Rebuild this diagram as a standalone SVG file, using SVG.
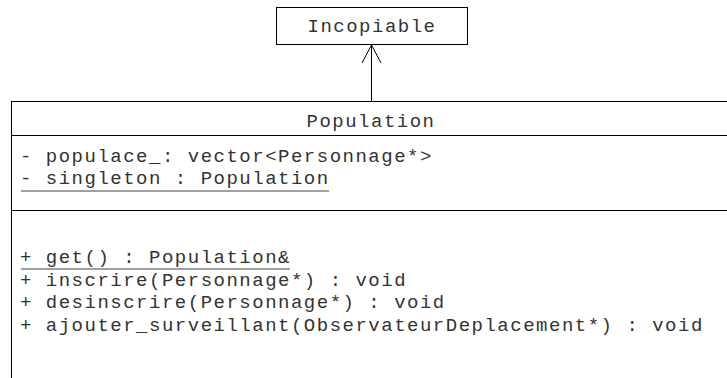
<svg xmlns="http://www.w3.org/2000/svg" width="727" height="378" viewBox="0 0 727 378">
  <style>
    .box { fill: #ffffff; stroke: #000000; stroke-width: 1; }
    .sep { stroke: #000000; stroke-width: 1; }
    .ul { stroke: #808080; stroke-width: 1.5; }
    .txt { font-family: "Liberation Mono", "DejaVu Sans Mono", monospace; font-size: 19px; letter-spacing: 1.5px; fill: #333333; }
    .mid { text-anchor: middle; }
    .conn { fill: none; stroke: #000000; stroke-width: 1; }
  </style>
  <rect width="727" height="378" fill="#ffffff"/>

  <!-- Parent class -->
  <g id="incopiable">
    <rect class="box" x="276.5" y="7.5" width="191" height="37"/>
    <text class="txt mid" x="372" y="32">Incopiable</text>
  </g>

  <!-- Main class with its compartments -->
  <g id="population">
    <rect class="box" x="11.5" y="101.5" width="730" height="300"/>
    <line class="sep" x1="11.5" y1="135.5" x2="741" y2="135.5"/>
    <line class="sep" x1="11.5" y1="210.5" x2="741" y2="210.5"/>
    <text class="txt mid" x="371" y="127">Population</text>
    <text class="txt" x="20" y="162">- populace_: vector&lt;Personnage*&gt;</text>
    <text class="txt" x="20" y="184">- singleton : Population</text>
    <line class="ul" x1="21" y1="191" x2="329" y2="191"/>
    <text class="txt" x="20" y="263">+ get() : Population&amp;</text>
    <line class="ul" x1="21" y1="269" x2="290" y2="269"/>
    <text class="txt" x="20" y="286">+ inscrire(Personnage*) : void</text>
    <text class="txt" x="20" y="308">+ desinscrire(Personnage*) : void</text>
    <text class="txt" x="20" y="331">+ ajouter_surveillant(ObservateurDeplacement*) : void</text>
  </g>

  <!-- Generalization connector -->
  <g id="connectors">
    <line class="conn" x1="371.5" y1="101" x2="371.5" y2="45"/>
    <polyline class="conn" points="362,63 371.5,45 381,63"/>
  </g>
</svg>
